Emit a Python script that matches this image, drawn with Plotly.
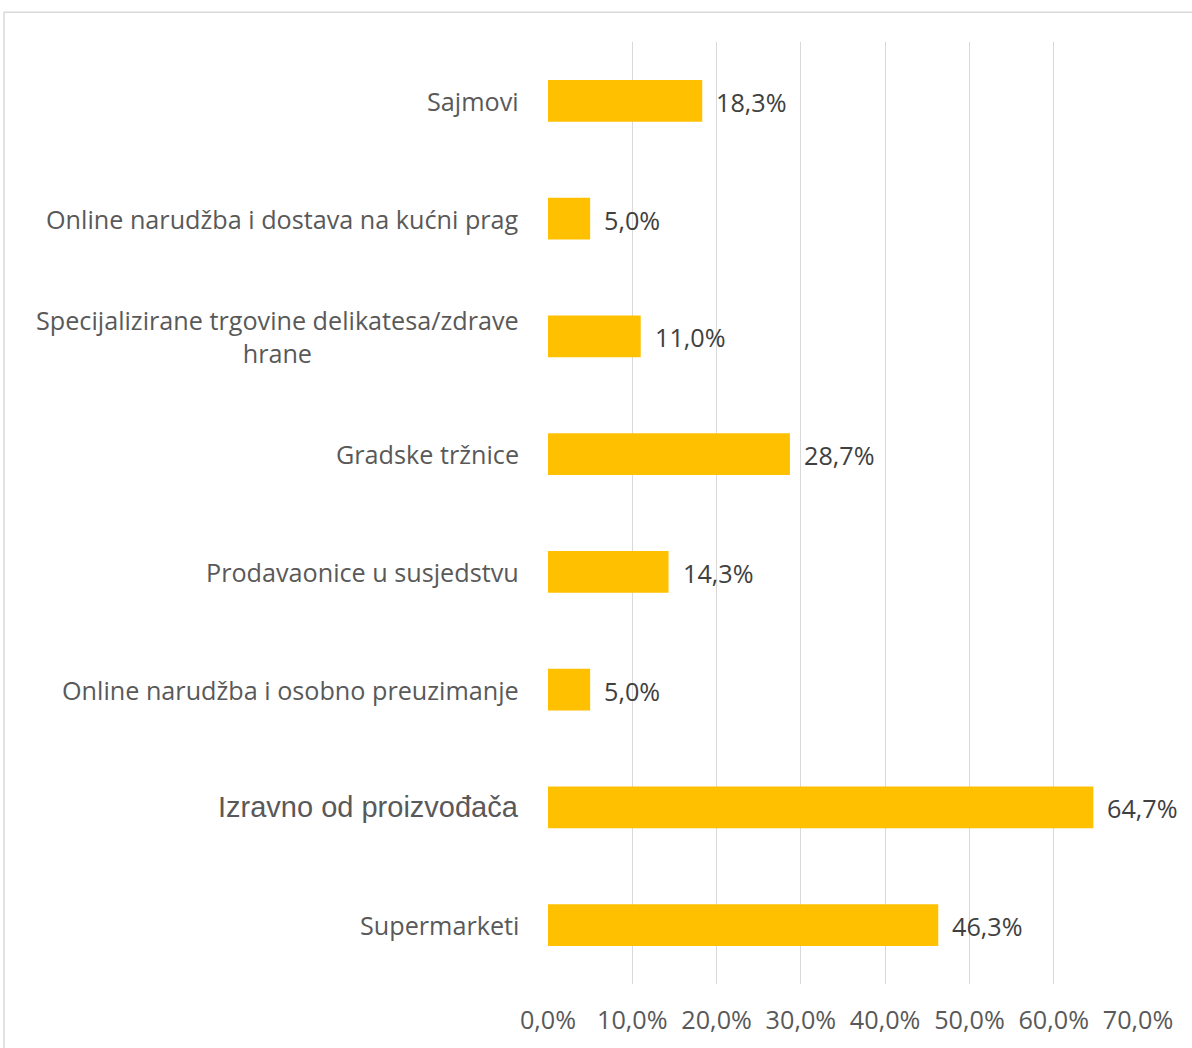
import plotly.graph_objects as go

categories = [
    "Sajmovi",
    "Online narudžba i dostava na kućni prag",
    "Specijalizirane trgovine delikatesa/zdrave<br>hrane",
    "Gradske tržnice",
    "Prodavaonice u susjedstvu",
    "Online narudžba i osobno preuzimanje",
    "Izravno od proizvođača",
    "Supermarketi",
]
values = [0.183, 0.050, 0.110, 0.287, 0.143, 0.050, 0.647, 0.463]
value_labels = ["18,3%", "5,0%", "11,0%", "28,7%", "14,3%", "5,0%", "64,7%", "46,3%"]
tick_vals = [0, 0.1, 0.2, 0.3, 0.4, 0.5, 0.6, 0.7]

W, H = 1192, 1048
L, R, T, B = 548, 54, 42, 58
pw = W - L - R
ph = H - T - B

fig = go.Figure()
fig.add_trace(go.Bar(
    y=list(range(len(categories))),
    x=values,
    orientation="h",
    marker=dict(color="#FFC000", line=dict(width=0)),
    width=0.356,
    hoverinfo="skip",
))

annotations = []
for i, c in enumerate(categories):
    if c == "Izravno od proizvođača":
        font = dict(family="Liberation Sans", size=29, color="#595959")
    else:
        font = dict(family="Open Sans", size=25.2, color="#595959")
    annotations.append(dict(
        xref="paper", yref="y", x=0, y=i, xanchor="right", yanchor="middle",
        xshift=-27, text=c, showarrow=False, align="center", font=font,
    ))
for i, (v, t) in enumerate(zip(values, value_labels)):
    annotations.append(dict(
        xref="x", yref="y", x=v, y=i, xanchor="left", yanchor="middle",
        xshift=12, yshift=-1, text=t, showarrow=False,
        font=dict(family="Open Sans", size=25.2, color="#404040"),
    ))

shapes = [dict(
    type="rect", xref="paper", yref="paper",
    x0=(4 - L) / pw, x1=(W + 10 - L) / pw,
    y0=-(H + 10 - T - ph) / ph, y1=1 + (T - 12) / ph,
    line=dict(color="#d9d9d9", width=1.5), fillcolor="rgba(0,0,0,0)", layer="below",
)]

fig.update_layout(
    width=W, height=H,
    margin=dict(l=L, r=R, t=T, b=B, pad=0),
    paper_bgcolor="white", plot_bgcolor="white",
    separators=",.",
    showlegend=False,
    annotations=annotations,
    shapes=shapes,
    xaxis=dict(
        range=[0, 0.7], tickvals=tick_vals, tickformat=".1%",
        showgrid=True, gridcolor="#d9d9d9", gridwidth=1.3,
        zeroline=False, showline=False, ticks="",
        tickfont=dict(family="Open Sans", size=25.2, color="#595959"),
        ticklabelstandoff=19,
    ),
    yaxis=dict(
        range=[len(categories) - 0.5, -0.5], showticklabels=False,
        showgrid=False, zeroline=False, showline=False, ticks="",
    ),
)

fig.write_html(
    "out.html",
    config={"displayModeBar": False},
    post_script="document.body.style.margin='0px';document.body.style.overflow='hidden';",
)
